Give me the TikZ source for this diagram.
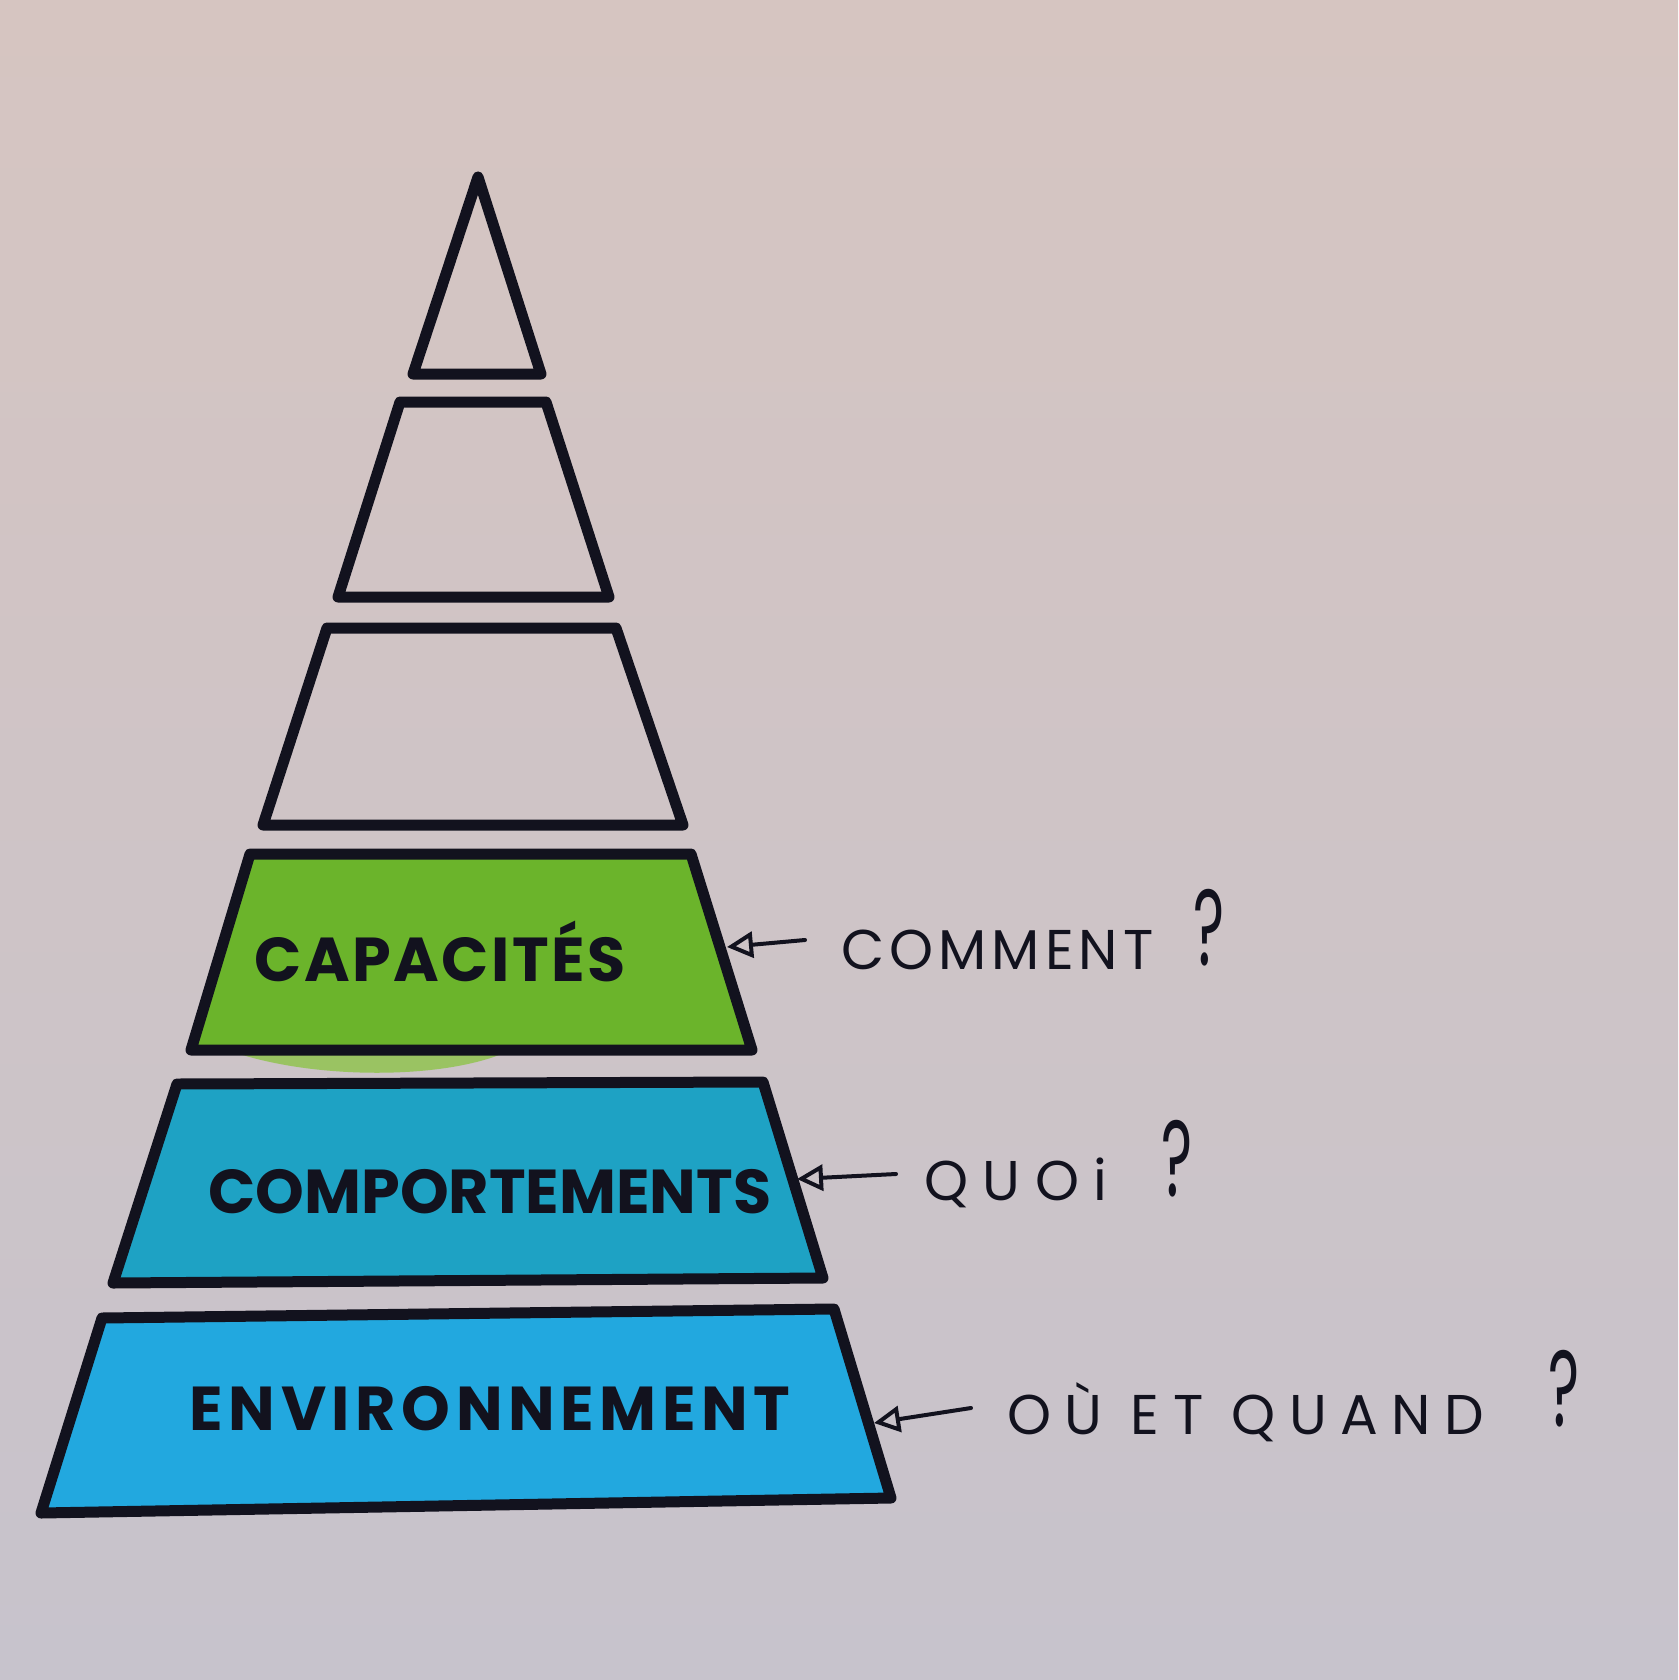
\documentclass[tikz,border=0pt]{standalone}
\usepackage{fontspec}
\setmainfont{Poppins}
\usetikzlibrary{arrows.meta}
\definecolor{ink}{HTML}{12121E}
\definecolor{paperTop}{HTML}{D6C5C1}
\definecolor{paperBot}{HTML}{C7C3CC}
\definecolor{grn}{HTML}{6BB42B}
\definecolor{grnL}{HTML}{80C23A}
\definecolor{teal}{HTML}{1EA2C4}
\definecolor{sky}{HTML}{22A8DF}
\begin{document}
\begin{tikzpicture}[x=1pt,y=-1pt,
  tier/.style={draw=ink, line width=11pt, line join=round},
  lbl/.style={font=\fontsize{62}{64}\selectfont\bfseries, text=ink, inner sep=0pt},
  qst/.style={font=\fontsize{56}{60}\selectfont, text=ink, inner sep=0pt, anchor=west},
  qarrow/.style={draw=ink, line width=4pt, line cap=round,
    -{Triangle[open, length=26pt, width=26pt, line width=4pt]}}]
\newcommand\qmk[1]{\raisebox{#1}{\fontsize{108}{108}\selectfont\scalebox{0.55}[1]{?}}}
\shade[top color=paperTop, bottom color=paperBot] (0,0) rectangle (1678,1680);
\useasboundingbox (0,0) rectangle (1678,1680);
% green bleed under the green tier
\fill[grnL!70!paperTop] (215,1045) .. controls (300,1082) and (460,1082) .. (520,1045) -- cycle;
% tiers
\draw[tier] (478,177) -- (541,374) -- (413,374) -- cycle;
\draw[tier] (400,402) -- (546,402) -- (609,597) -- (338,597) -- cycle;
\draw[tier] (327,628) -- (616,628) -- (683,825) -- (263,825) -- cycle;
\draw[tier, fill=grn] (250,854) -- (691,854) -- (752,1050) -- (191,1050) -- cycle;
\draw[tier, fill=teal] (177,1084) -- (763,1082) -- (823,1278) -- (113,1283) -- cycle;
\draw[tier, fill=sky] (102,1318) -- (834,1309) -- (891,1498) -- (41,1513) -- cycle;
% arrow tips on tier edges
\coordinate (capEdge) at (727,947);
\coordinate (compEdge) at (797,1179);
\coordinate (envEdge) at (874,1423);
% labels
\node[lbl] (cap) at (440,951) {\addfontfeature{LetterSpace=4}CAPACITÉS};
\node[lbl] (comp) at (490,1192) {COMPORTEMENTS};
\node[lbl] (env) at (490,1409) {\addfontfeature{LetterSpace=9}ENVIRONNEMENT};
% questions
\node[qst] (qcomment) at (841,930) {{\addfontfeature{LetterSpace=9}COMMENT}\hspace{40pt}\qmk{4pt}};
\node[qst] (qquoi) at (924,1164) {{\addfontfeature{LetterSpace=26}QUOi}\hspace{54pt}\qmk{4pt}};
\node[qst] (qou) at (1007,1396) {{\addfontfeature{LetterSpace=24}OÙ ET QUAND}\hspace{64pt}\qmk{8pt}};
% connectors
\draw[qarrow] (qcomment.west) ++(-36,10) -- (capEdge);
\draw[qarrow] (qquoi.west) ++(-28,10) -- (compEdge);
\draw[qarrow] (qou.west) ++(-36,12) -- (envEdge);
\end{tikzpicture}
\end{document}
